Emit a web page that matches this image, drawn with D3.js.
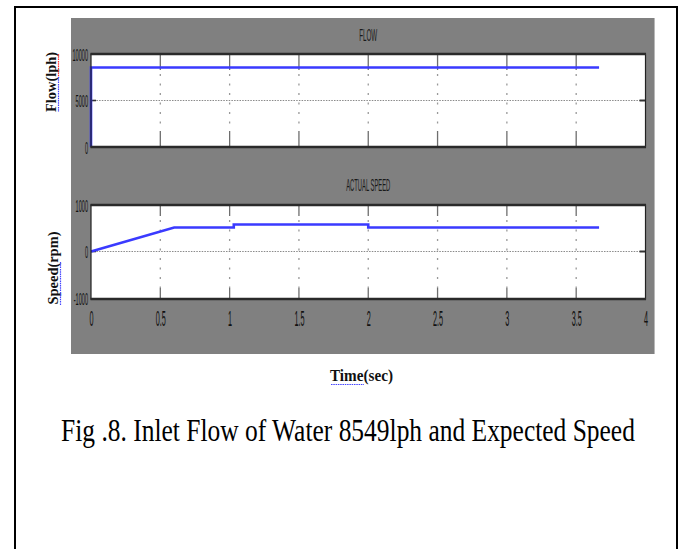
<!DOCTYPE html>
<html>
<head>
<meta charset="utf-8">
<script src="https://cdn.jsdelivr.net/npm/d3@7"></script>
<style>
  html, body { margin: 0; padding: 0; background: #fff; }
  svg { display: block; }
</style>
</head>
<body>
<svg id="chart" width="683" height="549"></svg>
<script>
// ---- data ----
const flowTime = [0, 0, 3.665];
const flowValues = [0, 8549, 8549];
const speedTime = [0, 0.6, 1.03, 1.03, 2.0, 2.0, 3.665];
const speedValues = [0, 515, 515, 580, 580, 515, 515];
const xTicks = [0, 0.5, 1, 1.5, 2, 2.5, 3, 3.5, 4];
const xTickLabels = ["0", "0.5", "1", "1.5", "2", "2.5", "3", "3.5", "4"];
const flowTicks = [0, 5000, 10000];
const flowTickLabels = ["0", "5000", "10000"];
const speedTicks = [-1000, 0, 1000];
const speedTickLabels = ["-1000", "0", "1000"];
const titles = ["FLOW", "ACTUAL SPEED"];
const yLabels = ["Flow(lph)", "Speed(rpm)"];
const xLabel = "Time(sec)";
const caption = "Fig .8. Inlet Flow of Water 8549lph and Expected Speed";

// ---- layout ----
const svg = d3.select("#chart");
const L = 91, R = 645.5;
const x = d3.scaleLinear().domain([0, 4]).range([L, R]);
const panels = [
  { top: 54, bottom: 147, y: d3.scaleLinear().domain([0, 10000]).range([147, 54]),
    ticks: flowTicks, labels: flowTickLabels, grid: [5000], tickLen: 16,
    t: flowTime, v: flowValues, title: titles[0], titleY: 41, titleLen: 18,
    ylab: yLabels[0], ylabX: 56, ylabY: 82, ylabLen: 60 },
  { top: 205, bottom: 299, y: d3.scaleLinear().domain([-1000, 1000]).range([298, 205]),
    ticks: speedTicks, labels: speedTickLabels, grid: [0], tickLen: 11,
    t: speedTime, v: speedValues, title: titles[1], titleY: 190.5, titleLen: 44,
    ylab: yLabels[1], ylabX: 58, ylabY: 268, ylabLen: 73 }
];

// outer frame
svg.append("rect").attr("x", 15).attr("y", 7).attr("width", 662).attr("height", 560)
  .attr("fill", "#fff").attr("stroke", "#000").attr("stroke-width", 2);

// gray figure background
svg.append("rect").attr("x", 71).attr("y", 18).attr("width", 583).attr("height", 336)
  .attr("fill", "#808080");
svg.append("line").attr("x1", 654.5).attr("x2", 654.5).attr("y1", 18).attr("y2", 354)
  .attr("stroke", "#b8b8b8").attr("stroke-width", 1);

const SX = 0.33;

panels.forEach((p, i) => {
  const g = svg.append("g");
  g.append("rect").attr("x", L).attr("y", p.top).attr("width", R - L).attr("height", p.bottom - p.top)
    .attr("fill", "#fff");

  p.grid.forEach(val => {
    g.append("line").attr("x1", L).attr("x2", R).attr("y1", p.y(val)).attr("y2", p.y(val))
      .attr("stroke", "#8a8a8a").attr("stroke-width", 1.2).attr("stroke-dasharray", "1.5,1.2");
    g.append("line").attr("x1", L).attr("x2", L + 5).attr("y1", p.y(val)).attr("y2", p.y(val))
      .attr("stroke", "#333").attr("stroke-width", 1.6);
    g.append("line").attr("x1", R - 6).attr("x2", R).attr("y1", p.y(val)).attr("y2", p.y(val))
      .attr("stroke", "#333").attr("stroke-width", 2);
  });

  xTicks.slice(1, -1).forEach(tv => {
    const xx = x(tv);
    g.append("line").attr("x1", xx).attr("x2", xx).attr("y1", p.top).attr("y2", p.top + p.tickLen)
      .attr("stroke", "#6e6e6e").attr("stroke-width", 1.3);
    g.append("line").attr("x1", xx).attr("x2", xx).attr("y1", p.bottom - p.tickLen).attr("y2", p.bottom)
      .attr("stroke", "#6e6e6e").attr("stroke-width", 1.3);
    g.append("line").attr("x1", xx).attr("x2", xx).attr("y1", p.top + p.tickLen + 4).attr("y2", p.bottom - p.tickLen)
      .attr("stroke", "#999").attr("stroke-width", 1.3).attr("stroke-dasharray", "2,7.5");
  });

  const line = d3.line().x(d => x(d[0])).y(d => p.y(d[1]));
  g.append("path").datum(p.t.map((t, k) => [t, p.v[k]]))
    .attr("d", line).attr("fill", "none").attr("stroke", "#3a3aff")
    .attr("stroke-width", 2.6).attr("stroke-linejoin", "miter");

  g.append("rect").attr("x", L).attr("y", p.top).attr("width", R - L).attr("height", p.bottom - p.top)
    .attr("fill", "none").attr("stroke", "#222").attr("stroke-width", 1.2);
  g.append("line").attr("x1", L - 0.5).attr("x2", R + 0.5).attr("y1", p.top).attr("y2", p.top)
    .attr("stroke", "#2a2a2a").attr("stroke-width", 2.6);
  g.append("line").attr("x1", L - 0.5).attr("x2", R + 0.5).attr("y1", p.bottom).attr("y2", p.bottom)
    .attr("stroke", "#2a2a2a").attr("stroke-width", 2.6);

  const yAxis = d3.axisLeft(p.y).tickValues(p.ticks).tickSize(0)
    .tickFormat((d, k) => p.labels[k]);
  const ya = g.append("g").attr("transform", `translate(${L},0)`).call(yAxis);
  ya.select(".domain").remove();
  ya.selectAll("text")
    .attr("x", -3 / SX).attr("dy", "0.36em")
    .attr("transform", `scale(${SX},1)`)
    .attr("font-family", "Liberation Sans, Arial, sans-serif")
    .attr("font-size", 17).attr("fill", "#111");

  g.append("text").attr("x", (L + R) / 2).attr("y", p.titleY).attr("text-anchor", "middle")
    .attr("font-family", "Liberation Sans, Arial, sans-serif").attr("font-size", 17)
    .attr("textLength", p.titleLen).attr("lengthAdjust", "spacingAndGlyphs")
    .attr("fill", "#1a1a1a").text(p.title);

  g.append("text")
    .attr("transform", `translate(${p.ylabX},${p.ylabY}) rotate(-90)`)
    .attr("text-anchor", "middle")
    .attr("font-family", "Liberation Serif, Times New Roman, serif")
    .attr("font-weight", "bold").attr("font-size", 14)
    .attr("textLength", p.ylabLen).attr("lengthAdjust", "spacingAndGlyphs")
    .attr("fill", "#111").text(p.ylab);
});

// squiggle underlines of y labels
svg.append("line").attr("x1", 58.5).attr("x2", 58.5).attr("y1", 77).attr("y2", 112)
  .attr("stroke", "#4444ff").attr("stroke-width", 1.2).attr("stroke-dasharray", "1.5,0.8");
svg.append("line").attr("x1", 58.5).attr("x2", 58.5).attr("y1", 54).attr("y2", 77)
  .attr("stroke", "#ff3333").attr("stroke-width", 1.2).attr("stroke-dasharray", "1.5,0.8");
svg.append("line").attr("x1", 60.5).attr("x2", 60.5).attr("y1", 262).attr("y2", 305)
  .attr("stroke", "#4444ff").attr("stroke-width", 1.2).attr("stroke-dasharray", "1.5,0.8");

// x tick labels on lower panel
const xAxis = d3.axisBottom(x).tickValues(xTicks).tickSize(0)
  .tickFormat((d, k) => xTickLabels[k]);
const xa = svg.append("g").attr("transform", `translate(0,${panels[1].bottom})`).call(xAxis);
xa.select(".domain").remove();
xa.selectAll("text")
  .attr("x", 0).attr("y", 11).attr("dy", "0.72em")
  .attr("transform", `scale(${SX},1)`)
  .attr("font-family", "Liberation Sans, Arial, sans-serif")
  .attr("font-size", 22).attr("fill", "#111");

// x label
svg.append("text").attr("x", 361.5).attr("y", 381).attr("text-anchor", "middle")
  .attr("font-family", "Liberation Serif, Times New Roman, serif")
  .attr("font-weight", "bold").attr("font-size", 17)
  .attr("textLength", 63).attr("lengthAdjust", "spacingAndGlyphs")
  .attr("fill", "#111").text(xLabel);
svg.append("line").attr("x1", 331).attr("x2", 364).attr("y1", 384.5).attr("y2", 384.5)
  .attr("stroke", "#4444ff").attr("stroke-width", 1.2).attr("stroke-dasharray", "1.5,0.8");

// caption (horizontally condensed via scale so its box stays inside)
const capG = svg.append("g").attr("transform", "translate(348,441)");
const cap = capG.append("text").attr("x", 0).attr("y", 0).attr("text-anchor", "middle")
  .attr("font-family", "Liberation Serif, Times New Roman, serif")
  .attr("font-size", 31).attr("fill", "#000").text(caption);
const natural = cap.node().getComputedTextLength();
capG.attr("transform", `translate(348,441) scale(${574 / natural},1)`);
</script>
</body>
</html>
